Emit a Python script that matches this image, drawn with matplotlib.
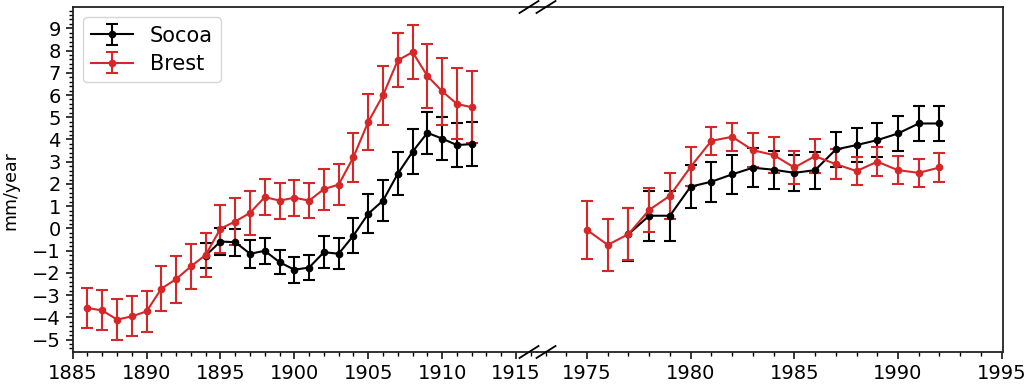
import matplotlib
matplotlib.use("Agg")
import matplotlib.pyplot as plt
from matplotlib.lines import Line2D
from matplotlib.ticker import MultipleLocator

# ---- data ----
socoa_years_early = list(range(1894, 1913))
socoa_early = [-1.22, -0.59, -0.62, -1.14, -1.01, -1.52, -1.86, -1.76, -1.07, -1.14,
               -0.32, 0.66, 1.25, 2.46, 3.45, 4.30, 4.04, 3.75, 3.79]
socoa_err_early = [0.56, 0.60, 0.60, 0.64, 0.60, 0.54, 0.59, 0.58, 0.71, 0.69,
                   0.80, 0.88, 0.92, 0.96, 1.00, 0.95, 0.95, 1.01, 1.00]

brest_years_early = list(range(1886, 1913))
brest_early = [-3.58, -3.69, -4.10, -3.96, -3.73, -2.71, -2.28, -1.71, -1.19, -0.01,
               0.31, 0.70, 1.41, 1.25, 1.38, 1.25, 1.77, 1.97, 3.21, 4.79,
               5.99, 7.56, 7.93, 6.86, 6.17, 5.60, 5.45]
brest_err_early = [0.92, 0.90, 0.93, 0.90, 0.93, 1.00, 1.06, 1.02, 1.00, 1.08,
                   1.05, 0.98, 0.80, 0.81, 0.80, 0.78, 0.92, 0.91, 1.10, 1.25,
                   1.33, 1.21, 1.22, 1.43, 1.51, 1.60, 1.63]

socoa_years_late = list(range(1977, 1993))
socoa_late = [-0.26, 0.57, 0.57, 1.88, 2.10, 2.43, 2.73, 2.64, 2.50, 2.62,
              3.55, 3.75, 3.97, 4.27, 4.72, 4.72]
socoa_err_late = [1.20, 1.12, 1.12, 0.97, 0.90, 0.87, 0.87, 0.85, 0.82, 0.83,
                  0.80, 0.77, 0.78, 0.79, 0.77, 0.77]

brest_years_late = list(range(1975, 1993))
brest_late = [-0.07, -0.74, -0.26, 0.83, 1.47, 2.77, 3.94, 4.12, 3.52, 3.30,
              2.74, 3.25, 2.89, 2.58, 3.00, 2.62, 2.50, 2.74]
brest_err_late = [1.30, 1.17, 1.18, 1.00, 1.03, 0.87, 0.64, 0.62, 0.75, 0.80,
                  0.73, 0.77, 0.68, 0.62, 0.64, 0.64, 0.63, 0.63]

xlim_early = (1885, 1916.42)
xlim_late = (1972.59, 1995.05)
ylim = (-5.56, 9.96)
yticks = list(range(-5, 10))

# ---- figure ----
W, H = 1027, 385
fig = plt.figure(figsize=(W / 100, H / 100), dpi=100)

def fx(px):
    return px / W

def fy(py):
    return 1 - py / H

top_px, bot_px = 7, 352
left_px, mid_px, right_px = 72.7, 537, 1002.7
ax1 = fig.add_axes([fx(left_px), fy(bot_px), fx(mid_px - left_px), fy(top_px) - fy(bot_px)])
ax2 = fig.add_axes([fx(mid_px), fy(bot_px), fx(right_px - mid_px), fy(top_px) - fy(bot_px)])

red = "#d62728"
kw = dict(marker="o", markersize=4.5, linewidth=1.5, elinewidth=1.5, capsize=4, capthick=1.5)

for ax, (sx, sy, se, bx, by, be) in zip(
        (ax1, ax2),
        ((socoa_years_early, socoa_early, socoa_err_early, brest_years_early, brest_early, brest_err_early),
         (socoa_years_late, socoa_late, socoa_err_late, brest_years_late, brest_late, brest_err_late))):
    ax.errorbar(sx, sy, yerr=se, color="black", label="Socoa", **kw)
    ax.errorbar(bx, by, yerr=be, color=red, label="Brest", **kw)
    ax.set_ylim(*ylim)
    ax.xaxis.set_major_locator(MultipleLocator(5))
    ax.xaxis.set_minor_locator(MultipleLocator(1))
    ax.tick_params(axis="both", which="major", labelsize=14, length=5, width=1.1)
    ax.tick_params(axis="both", which="minor", length=3, width=1.0)
    for s in ax.spines.values():
        s.set_linewidth(1.3)
        s.set_color("#222222")

ax1.set_xlim(*xlim_early)
ax2.set_xlim(*xlim_late)
ax1.set_yticks(yticks)
ax1.yaxis.set_minor_locator(MultipleLocator(0.2))
ax1.spines["right"].set_visible(False)
ax2.spines["left"].set_visible(False)
ax2.tick_params(axis="y", which="both", left=False, labelleft=False, right=False)

fig.text(fx(10.5), fy(191), "mm/year", rotation=90, ha="center", va="center", fontsize=12.5)

ax1.legend(loc="upper left", fontsize=15, handlelength=2.0, borderpad=0.4,
           labelspacing=0.4, handletextpad=0.8)

# break marks
for cx in (529, 546):
    for cy in (top_px, bot_px):
        fig.add_artist(Line2D([fx(cx - 9.5), fx(cx + 9.5)], [fy(cy + 6), fy(cy - 6)],
                              color="black", linewidth=1.3, transform=fig.transFigure))

fig.savefig("out.png", dpi=100)
